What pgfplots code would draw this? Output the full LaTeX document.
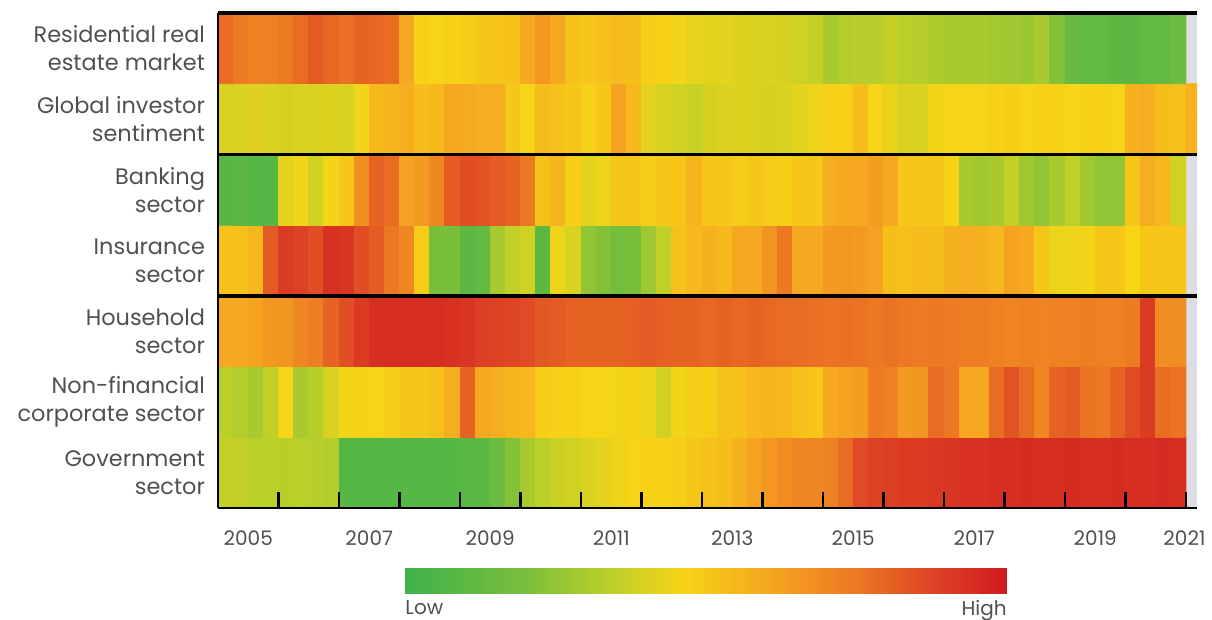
\documentclass[border=0pt]{standalone}
\usepackage{pgfplots}
\pgfplotsset{compat=1.18}
\usepackage{fontspec}
\setmainfont{Poppins}
\definecolor{txt}{RGB}{80,80,80}
\definecolor{nodata}{RGB}{221,222,227}
\begin{document}
\begin{tikzpicture}
\path[use as bounding box] (-109pt,-56pt) rectangle (497pt,254pt);
\begin{axis}[
  at={(0,0)}, anchor=south west,
  scale only axis, width=489.5pt, height=247.5pt,
  xmin=-0.5, xmax=64.23, ymin=-0.5, ymax=6.5,
  axis on top,
  axis background/.style={fill=nodata},
  axis x line*=bottom, axis y line*=left,
  axis line style={-, black, line width=0.7pt},
  tick align=inside,
  xtick={1.5,9.5,17.5,25.5,33.5,41.5,49.5,57.5,63.4},
  xticklabels={2005,2007,2009,2011,2013,2015,2017,2019,2021},
  major tick length=0pt,
  minor xtick={3.5,7.5,...,63.5},
  minor tick length=8pt,
  minor tick style={black, line width=1.2pt},
  xticklabel style={font=\fontsize{10}{12}\selectfont, text=txt, yshift=-8pt},
  ytick={0,...,6},
  yticklabels={{Government\\sector},{Non-financial\\corporate sector},{Household\\sector},{Insurance\\sector},{Banking\\sector},{Global investor\\sentiment},{Residential real\\estate market}},
  yticklabel style={font=\fontsize{11.2}{14}\selectfont, text=txt, align=right, xshift=-3pt},
  extra y ticks={2.5,4.5,6.5},
  extra y tick labels={,,},
  extra y tick style={grid=major, major grid style={black, line width=1.8pt}},
  colormap={heat}{rgb255(0cm)=(62,178,74) rgb255(2cm)=(122,191,60) rgb255(3.5cm)=(192,208,40) rgb255(4.6cm)=(247,212,22) rgb255(6cm)=(245,168,32) rgb255(7.5cm)=(236,120,35) rgb255(8.8cm)=(222,66,36) rgb255(10cm)=(208,26,32)},
  point meta min=0, point meta max=1,
  colorbar horizontal,
  colorbar style={
    at={(93.5pt,-21.5pt)}, anchor=north west,
    scale only axis, width=301pt, height=12.5pt,
    axis line style={draw=none},
    xtick={0}, xticklabels={Low},
    extra x ticks={1}, extra x tick labels={High},
    major tick length=0pt,
    xticklabel style={font=\fontsize{10}{12}\selectfont, text=txt, anchor=north west, inner xsep=0pt},
    extra x tick style={xticklabel style={anchor=north east}},
    ytick=\empty,
  },
]
% quarters 2005Q1 (0) .. 2020Q4 (63); rows bottom (0) to top (6)
\addplot[matrix plot*, shader=flat corner, mesh/cols=64, point meta=explicit]
  table[row sep=\\, meta=c] {
x y c\\
0 0 .36\\ 1 0 .35\\ 2 0 .34\\ 3 0 .34\\ 4 0 .33\\ 5 0 .34\\ 6 0 .33\\ 7 0 .32\\ 8 0 .08\\ 9 0 .08\\ 10 0 .08\\ 11 0 .08\\ 12 0 .08\\ 13 0 .08\\ 14 0 .08\\ 15 0 .08\\ 16 0 .09\\ 17 0 .10\\ 18 0 .15\\ 19 0 .22\\ 20 0 .30\\ 21 0 .34\\ 22 0 .37\\ 23 0 .38\\ 24 0 .40\\ 25 0 .42\\ 26 0 .44\\ 27 0 .46\\ 28 0 .47\\ 29 0 .47\\ 30 0 .48\\ 31 0 .50\\ 32 0 .52\\ 33 0 .53\\ 34 0 .57\\ 35 0 .62\\ 36 0 .65\\ 37 0 .68\\ 38 0 .70\\ 39 0 .70\\ 40 0 .72\\ 41 0 .78\\ 42 0 .86\\ 43 0 .88\\ 44 0 .89\\ 45 0 .90\\ 46 0 .90\\ 47 0 .91\\ 48 0 .92\\ 49 0 .93\\ 50 0 .93\\ 51 0 .94\\ 52 0 .94\\ 53 0 .95\\ 54 0 .94\\ 55 0 .94\\ 56 0 .95\\ 57 0 .94\\ 58 0 .94\\ 59 0 .95\\ 60 0 .94\\ 61 0 .94\\ 62 0 .95\\ 63 0 .94\\
0 1 .34\\ 1 1 .32\\ 2 1 .30\\ 3 1 .35\\ 4 1 .46\\ 5 1 .30\\ 6 1 .33\\ 7 1 .40\\ 8 1 .45\\ 9 1 .47\\ 10 1 .46\\ 11 1 .48\\ 12 1 .50\\ 13 1 .50\\ 14 1 .52\\ 15 1 .58\\ 16 1 .80\\ 17 1 .60\\ 18 1 .58\\ 19 1 .56\\ 20 1 .55\\ 21 1 .48\\ 22 1 .47\\ 23 1 .47\\ 24 1 .46\\ 25 1 .46\\ 26 1 .45\\ 27 1 .47\\ 28 1 .44\\ 29 1 .38\\ 30 1 .45\\ 31 1 .48\\ 32 1 .48\\ 33 1 .52\\ 34 1 .52\\ 35 1 .55\\ 36 1 .56\\ 37 1 .55\\ 38 1 .52\\ 39 1 .50\\ 40 1 .60\\ 41 1 .62\\ 42 1 .63\\ 43 1 .74\\ 44 1 .72\\ 45 1 .64\\ 46 1 .66\\ 47 1 .78\\ 48 1 .75\\ 49 1 .60\\ 50 1 .60\\ 51 1 .78\\ 52 1 .84\\ 53 1 .78\\ 54 1 .70\\ 55 1 .80\\ 56 1 .82\\ 57 1 .76\\ 58 1 .75\\ 59 1 .80\\ 60 1 .86\\ 61 1 .90\\ 62 1 .78\\ 63 1 .76\\
0 2 .60\\ 1 2 .60\\ 2 2 .62\\ 3 2 .65\\ 4 2 .66\\ 5 2 .70\\ 6 2 .73\\ 7 2 .80\\ 8 2 .85\\ 9 2 .90\\ 10 2 .94\\ 11 2 .94\\ 12 2 .94\\ 13 2 .94\\ 14 2 .94\\ 15 2 .93\\ 16 2 .92\\ 17 2 .89\\ 18 2 .88\\ 19 2 .87\\ 20 2 .86\\ 21 2 .83\\ 22 2 .82\\ 23 2 .80\\ 24 2 .80\\ 25 2 .80\\ 26 2 .80\\ 27 2 .81\\ 28 2 .82\\ 29 2 .81\\ 30 2 .80\\ 31 2 .80\\ 32 2 .79\\ 33 2 .80\\ 34 2 .79\\ 35 2 .80\\ 36 2 .79\\ 37 2 .78\\ 38 2 .78\\ 39 2 .77\\ 40 2 .76\\ 41 2 .77\\ 42 2 .76\\ 43 2 .75\\ 44 2 .76\\ 45 2 .75\\ 46 2 .74\\ 47 2 .75\\ 48 2 .74\\ 49 2 .73\\ 50 2 .73\\ 51 2 .72\\ 52 2 .71\\ 53 2 .72\\ 54 2 .71\\ 55 2 .72\\ 56 2 .72\\ 57 2 .73\\ 58 2 .72\\ 59 2 .72\\ 60 2 .74\\ 61 2 .90\\ 62 2 .68\\ 63 2 .68\\
0 3 .52\\ 1 3 .52\\ 2 3 .55\\ 3 3 .82\\ 4 3 .90\\ 5 3 .88\\ 6 3 .85\\ 7 3 .93\\ 8 3 .92\\ 9 3 .85\\ 10 3 .82\\ 11 3 .75\\ 12 3 .70\\ 13 3 .48\\ 14 3 .20\\ 15 3 .20\\ 16 3 .10\\ 17 3 .12\\ 18 3 .30\\ 19 3 .35\\ 20 3 .38\\ 21 3 .10\\ 22 3 .44\\ 23 3 .40\\ 24 3 .25\\ 25 3 .22\\ 26 3 .18\\ 27 3 .20\\ 28 3 .28\\ 29 3 .35\\ 30 3 .52\\ 31 3 .55\\ 32 3 .57\\ 33 3 .55\\ 34 3 .60\\ 35 3 .60\\ 36 3 .66\\ 37 3 .75\\ 38 3 .60\\ 39 3 .60\\ 40 3 .64\\ 41 3 .65\\ 42 3 .64\\ 43 3 .62\\ 44 3 .53\\ 45 3 .52\\ 46 3 .54\\ 47 3 .53\\ 48 3 .57\\ 49 3 .58\\ 50 3 .57\\ 51 3 .55\\ 52 3 .62\\ 53 3 .60\\ 54 3 .50\\ 55 3 .44\\ 56 3 .44\\ 57 3 .45\\ 58 3 .50\\ 59 3 .50\\ 60 3 .46\\ 61 3 .50\\ 62 3 .50\\ 63 3 .50\\
0 4 .08\\ 1 4 .10\\ 2 4 .08\\ 3 4 .08\\ 4 4 .42\\ 5 4 .45\\ 6 4 .38\\ 7 4 .45\\ 8 4 .50\\ 9 4 .68\\ 10 4 .80\\ 11 4 .78\\ 12 4 .62\\ 13 4 .64\\ 14 4 .70\\ 15 4 .82\\ 16 4 .85\\ 17 4 .84\\ 18 4 .82\\ 19 4 .80\\ 20 4 .75\\ 21 4 .52\\ 22 4 .56\\ 23 4 .48\\ 24 4 .42\\ 25 4 .44\\ 26 4 .50\\ 27 4 .50\\ 28 4 .48\\ 29 4 .50\\ 30 4 .50\\ 31 4 .56\\ 32 4 .50\\ 33 4 .50\\ 34 4 .48\\ 35 4 .50\\ 36 4 .49\\ 37 4 .48\\ 38 4 .50\\ 39 4 .50\\ 40 4 .58\\ 41 4 .60\\ 42 4 .60\\ 43 4 .63\\ 44 4 .60\\ 45 4 .50\\ 46 4 .50\\ 47 4 .50\\ 48 4 .47\\ 49 4 .30\\ 50 4 .28\\ 51 4 .30\\ 52 4 .36\\ 53 4 .28\\ 54 4 .25\\ 55 4 .30\\ 56 4 .35\\ 57 4 .28\\ 58 4 .25\\ 59 4 .25\\ 60 4 .50\\ 61 4 .58\\ 62 4 .55\\ 63 4 .38\\
0 5 .40\\ 1 5 .40\\ 2 5 .41\\ 3 5 .40\\ 4 5 .39\\ 5 5 .40\\ 6 5 .40\\ 7 5 .41\\ 8 5 .40\\ 9 5 .45\\ 10 5 .55\\ 11 5 .56\\ 12 5 .58\\ 13 5 .53\\ 14 5 .55\\ 15 5 .60\\ 16 5 .59\\ 17 5 .58\\ 18 5 .58\\ 19 5 .50\\ 20 5 .46\\ 21 5 .54\\ 22 5 .52\\ 23 5 .50\\ 24 5 .47\\ 25 5 .50\\ 26 5 .62\\ 27 5 .55\\ 28 5 .42\\ 29 5 .40\\ 30 5 .38\\ 31 5 .37\\ 32 5 .39\\ 33 5 .40\\ 34 5 .41\\ 35 5 .40\\ 36 5 .39\\ 37 5 .40\\ 38 5 .42\\ 39 5 .44\\ 40 5 .47\\ 41 5 .47\\ 42 5 .53\\ 43 5 .46\\ 44 5 .43\\ 45 5 .40\\ 46 5 .40\\ 47 5 .45\\ 48 5 .46\\ 49 5 .46\\ 50 5 .46\\ 51 5 .47\\ 52 5 .48\\ 53 5 .46\\ 54 5 .47\\ 55 5 .47\\ 56 5 .46\\ 57 5 .47\\ 58 5 .47\\ 59 5 .46\\ 60 5 .57\\ 61 5 .58\\ 62 5 .53\\ 63 5 .52\\
0 6 .78\\ 1 6 .74\\ 2 6 .72\\ 3 6 .72\\ 4 6 .74\\ 5 6 .78\\ 6 6 .82\\ 7 6 .79\\ 8 6 .77\\ 9 6 .80\\ 10 6 .79\\ 11 6 .78\\ 12 6 .60\\ 13 6 .47\\ 14 6 .46\\ 15 6 .47\\ 16 6 .48\\ 17 6 .50\\ 18 6 .50\\ 19 6 .52\\ 20 6 .60\\ 21 6 .65\\ 22 6 .60\\ 23 6 .52\\ 24 6 .50\\ 25 6 .52\\ 26 6 .54\\ 27 6 .53\\ 28 6 .48\\ 29 6 .47\\ 30 6 .45\\ 31 6 .43\\ 32 6 .42\\ 33 6 .42\\ 34 6 .41\\ 35 6 .40\\ 36 6 .40\\ 37 6 .39\\ 38 6 .38\\ 39 6 .36\\ 40 6 .30\\ 41 6 .32\\ 42 6 .33\\ 43 6 .33\\ 44 6 .36\\ 45 6 .34\\ 46 6 .33\\ 47 6 .31\\ 48 6 .30\\ 49 6 .30\\ 50 6 .30\\ 51 6 .29\\ 52 6 .28\\ 53 6 .27\\ 54 6 .30\\ 55 6 .22\\ 56 6 .14\\ 57 6 .12\\ 58 6 .12\\ 59 6 .10\\ 60 6 .10\\ 61 6 .12\\ 62 6 .12\\ 63 6 .16\\
};
% global investor sentiment runs a little into 2021
\addplot[matrix plot*, shader=flat corner, mesh/cols=2, point meta=explicit]
  table[row sep=\\, meta=c] {
x y c\\
63.75 4.75 .57\\ 64.25 4.75 .57\\
63.75 5.25 .57\\ 64.25 5.25 .57\\
};
\end{axis}
\end{tikzpicture}
\end{document}
